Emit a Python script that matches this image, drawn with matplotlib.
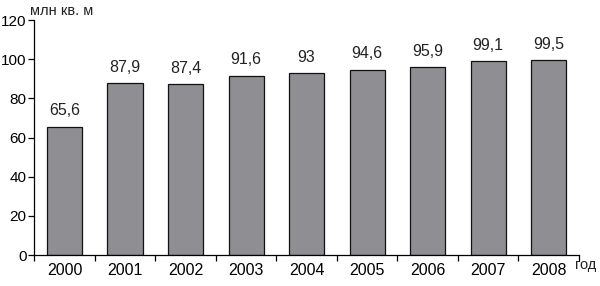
import matplotlib as mpl; mpl.use('Agg')
import matplotlib.pyplot as plt
import numpy as np

plt.rcParams.update({'font.family': ['Liberation Sans', 'DejaVu Sans'], 'font.size': 11.5})

years = ['2000', '2001', '2002', '2003', '2004', '2005', '2006', '2007', '2008']
values = [65.6, 87.9, 87.4, 91.6, 93.0, 94.6, 95.9, 99.1, 99.5]
labels = ['65,6', '87,9', '87,4', '91,6', '93', '94,6', '95,9', '99,1', '99,5']

fig = plt.figure(figsize=(6, 2.86), dpi=100)
ax = fig.add_axes([0.057, 0.108, 0.908, 0.822])
x = np.arange(len(years))
ax.bar(x, values, width=0.58, color='#8f8f93', edgecolor='#111111', linewidth=0.9)
for xi, v, t in zip(x, values, labels):
    ax.annotate(t, (xi, v), xytext=(0, 6), textcoords='offset points',
                ha='center', va='bottom', color='#222222')

ax.set_xlim(-0.5, len(years) - 0.5)
ax.set_ylim(0, 120)
ax.set_yticks(range(0, 121, 20))
ax.set_xticks(x)
ax.set_xticklabels(years)
ax.tick_params(axis='x', which='major', length=0, pad=6)
ax.set_xticks(np.arange(-0.5, len(years)), minor=True)
ax.tick_params(axis='x', which='minor', length=4, width=0.9, direction='out')
ax.tick_params(axis='y', length=4, width=0.9, pad=1.5, labelsize=11)
ax.spines[['top', 'right']].set_visible(False)
for s in ['left', 'bottom']:
    ax.spines[s].set_linewidth(0.9)

fig.text(0.05, 0.985, 'млн кв. м', ha='left', va='top', color='#222222', fontsize=10.5)
fig.text(0.958, 0.075, 'год', ha='left', va='center', color='#222222', fontsize=10.5)

plt.savefig('out.png', dpi=100)
plt.close()
